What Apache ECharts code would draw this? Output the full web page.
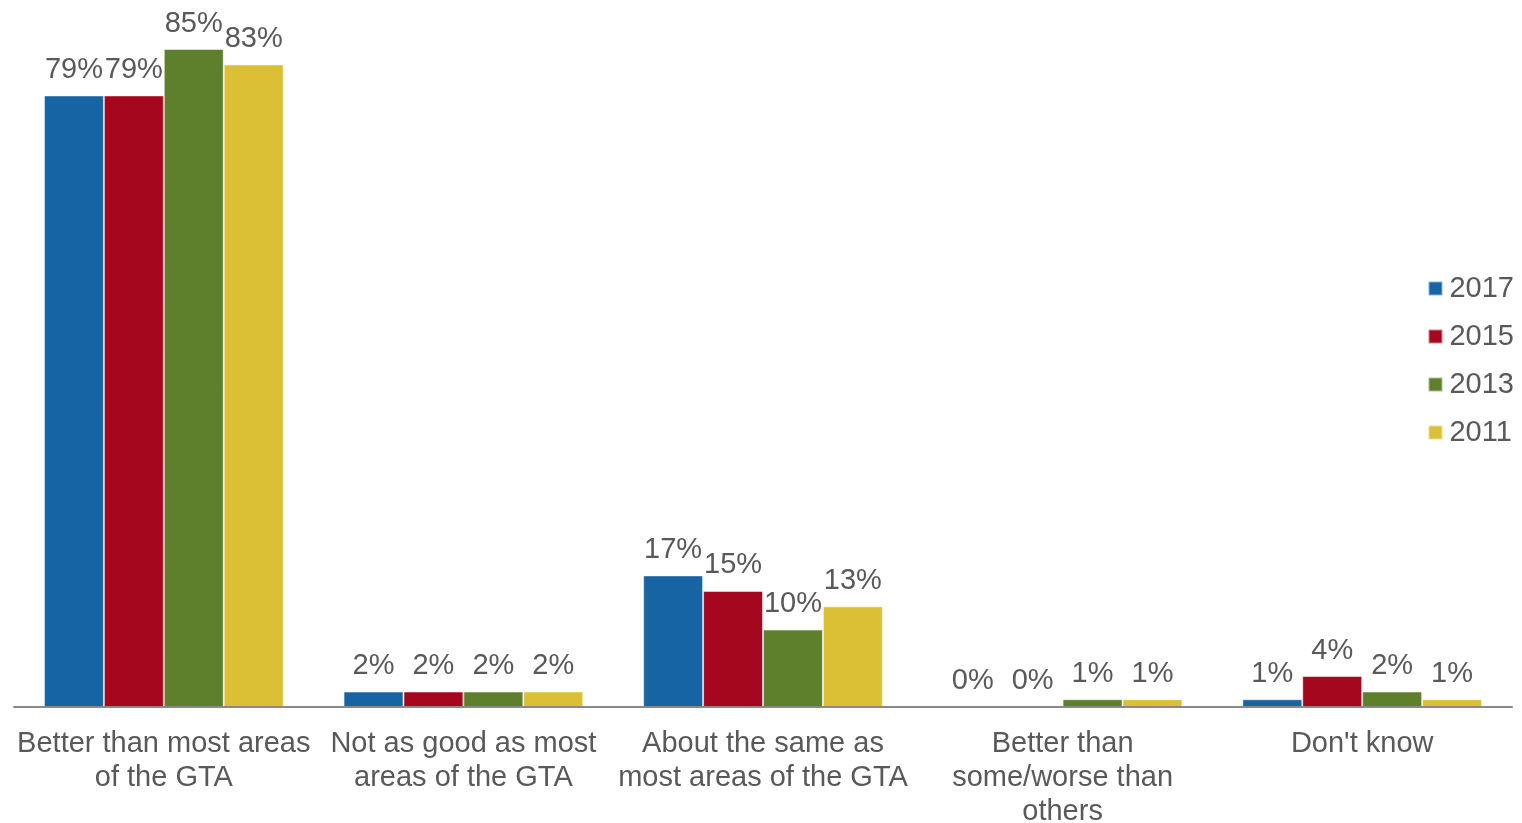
<!DOCTYPE html>
<html>
<head>
<meta charset="utf-8">
<title>Area comparison by survey year</title>
<script src="https://cdn.jsdelivr.net/npm/echarts@6/dist/echarts.min.js"></script>
<style>
  html, body { margin: 0; padding: 0; background: #ffffff; }
  #chart { width: 1522px; height: 823px; }
</style>
</head>
<body>
<div id="chart"></div>
<script>
// Response categories (line breaks as shown under the axis)
const categories = [
  'Better than most areas\nof the GTA',
  'Not as good as most\nareas of the GTA',
  'About the same as\nmost areas of the GTA',
  'Better than\nsome/worse than\nothers',
  "Don't know"
];

// Share of respondents (%) per survey year
const years = ['2017', '2015', '2013', '2011'];
const values2017 = [79, 2, 17, 0, 1];
const values2015 = [79, 2, 15, 0, 4];
const values2013 = [85, 2, 10, 1, 2];
const values2011 = [83, 2, 13, 1, 1];

const seriesValues = [values2017, values2015, values2013, values2011];
const colors = ['#1764A5', '#A5081E', '#5E7F2B', '#DBBF35'];

const textColor = '#595959';
const fontFamily = '"Liberation Sans", Arial, sans-serif';
const fontSize = 29;

const chart = echarts.init(document.getElementById('chart'));
chart.setOption({
  animation: false,
  color: colors,
  textStyle: { fontFamily: fontFamily, color: textColor },
  grid: {
    left: 14, right: 10, top: 49, bottom: 116,
    containLabel: false,
    outerBoundsMode: 'none'
  },
  legend: {
    orient: 'vertical',
    right: 3,
    top: 269,
    itemWidth: 14,
    itemHeight: 14,
    itemGap: 19,
    icon: 'rect',
    textStyle: { fontSize: fontSize, color: textColor, fontFamily: fontFamily, padding: [0, 0, 0, 2] },
    data: years
  },
  xAxis: {
    type: 'category',
    data: categories,
    z: 3,
    axisLine: { lineStyle: { color: '#898989', width: 2 } },
    axisTick: { show: false },
    axisLabel: {
      interval: 0,
      margin: 20,
      fontSize: fontSize,
      lineHeight: 34,
      color: textColor,
      fontFamily: fontFamily,
      align: 'center'
    }
  },
  yAxis: {
    type: 'value',
    min: 0,
    max: 85,
    show: false,
    splitLine: { show: false }
  },
  series: years.map((y, i) => ({
    name: y,
    type: 'bar',
    data: seriesValues[i],
    barGap: '0%',
    barCategoryGap: '20%',
    itemStyle: { color: colors[i], borderColor: 'rgba(255,255,255,0.5)', borderWidth: 1 },
    label: {
      show: true,
      position: 'top',
      distance: 11,
      fontSize: fontSize,
      color: textColor,
      fontFamily: fontFamily,
      formatter: p => p.value + '%'
    }
  }))
});
</script>
</body>
</html>
